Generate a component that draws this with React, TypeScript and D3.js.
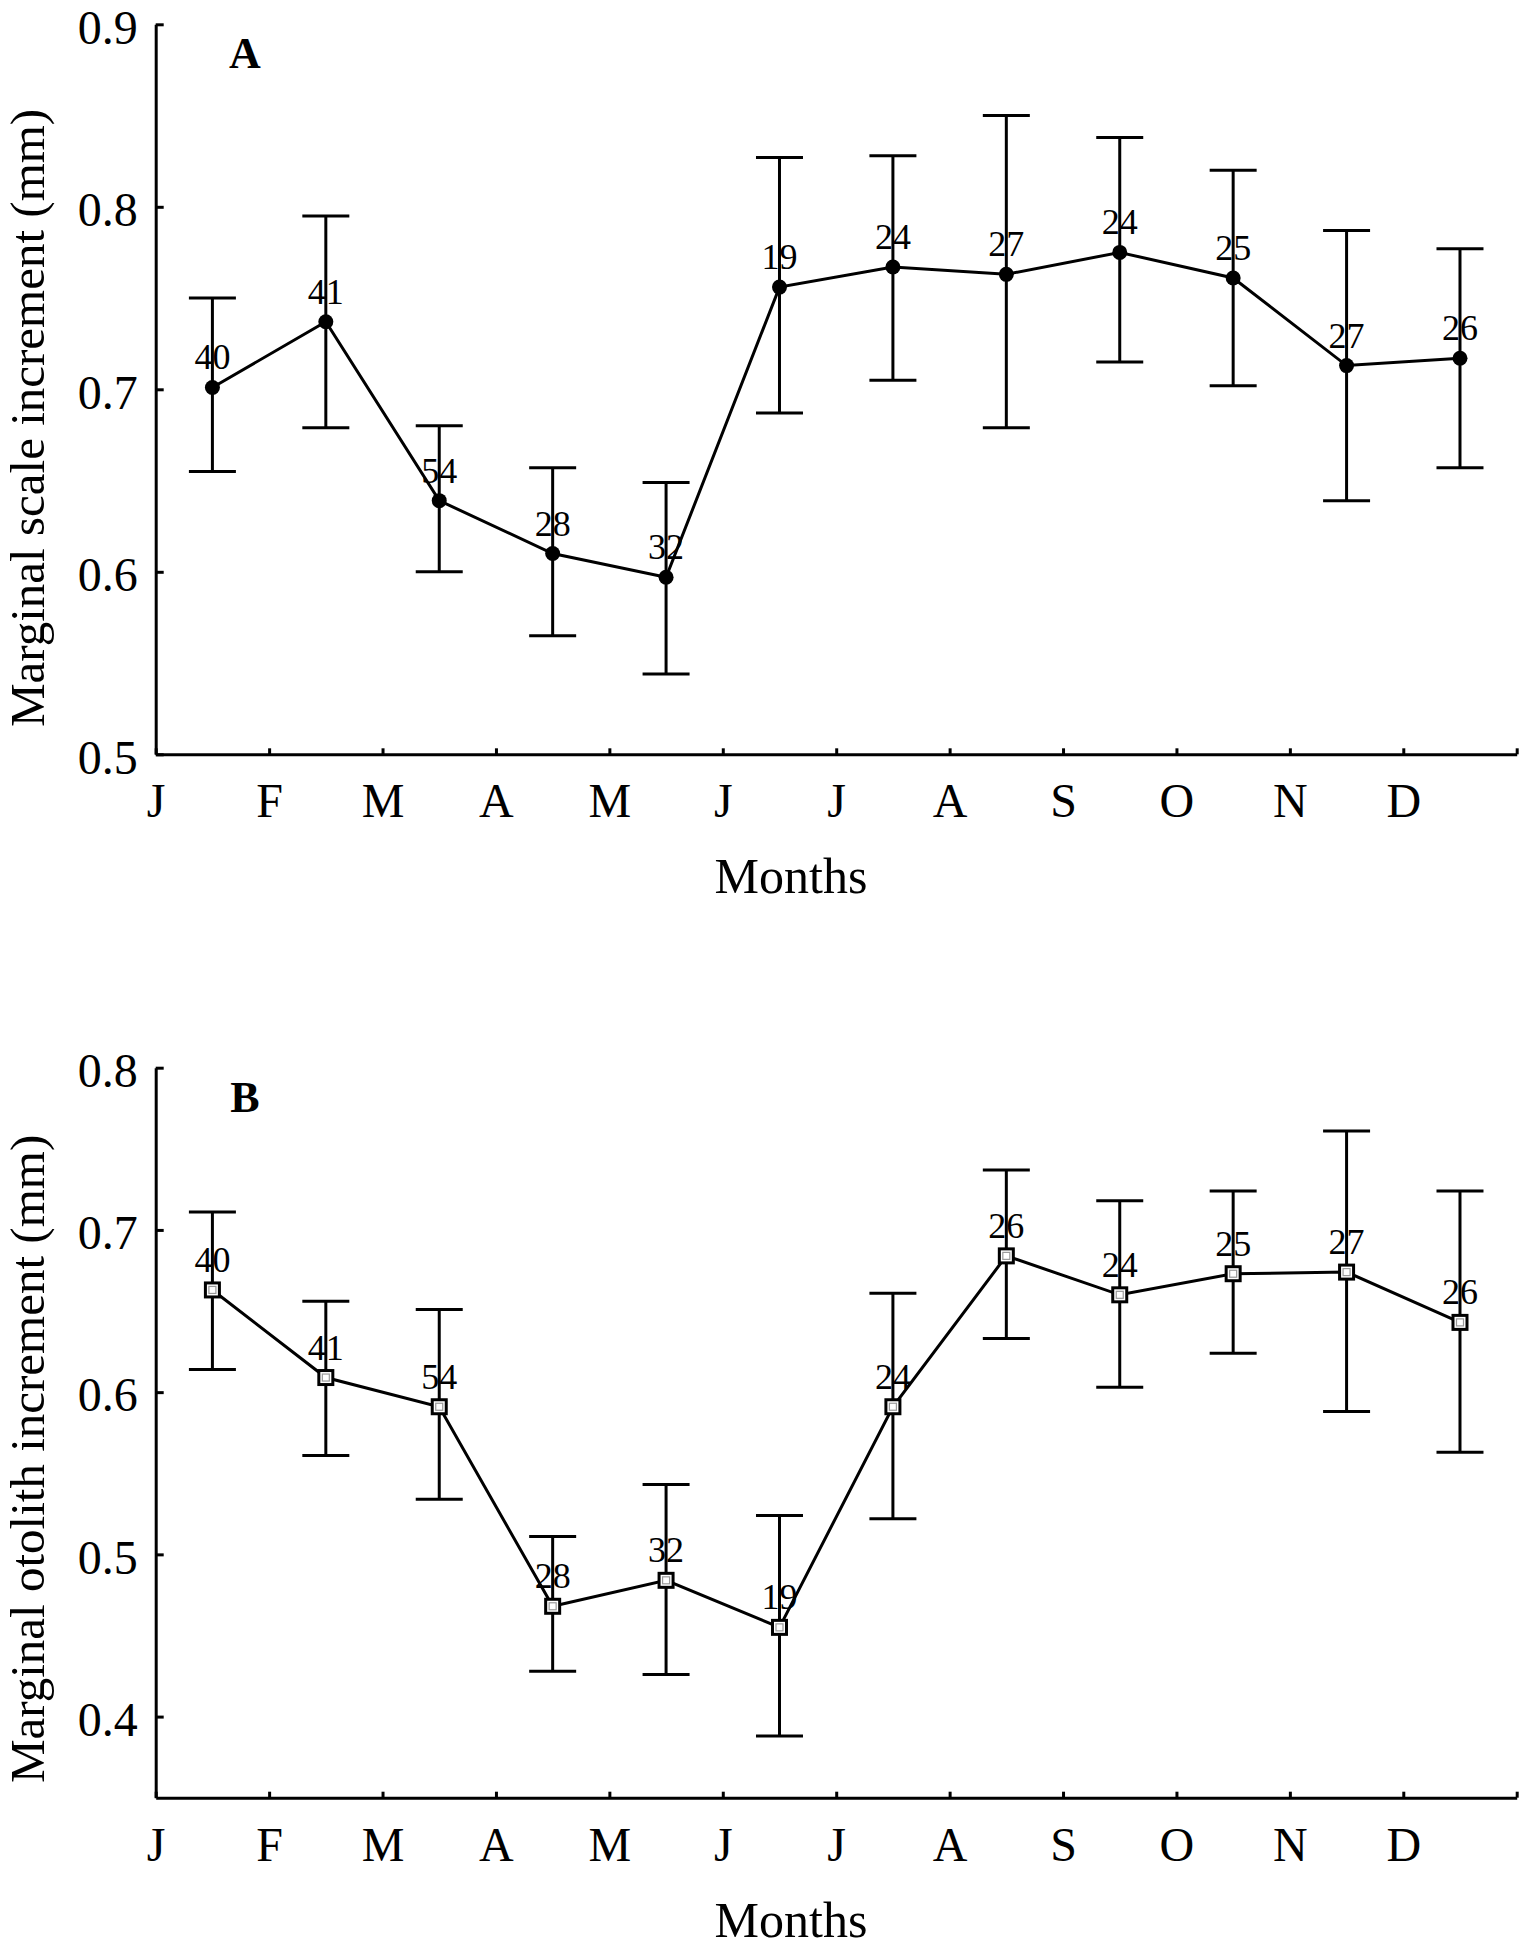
import { useEffect, useRef } from "react";
import * as d3 from "d3";

const WIDTH = 1523;
const HEIGHT = 1947;
const FONT = "'Liberation Serif', 'Times New Roman', serif";

const months = ["J", "F", "M", "A", "M", "J", "J", "A", "S", "O", "N", "D"];

// panel A - marginal scale increment
const scaleMean = [0.701, 0.737, 0.639, 0.61, 0.597, 0.756, 0.767, 0.763, 0.775, 0.761, 0.713, 0.717];
const scaleUpper = [0.75, 0.795, 0.68, 0.657, 0.649, 0.827, 0.828, 0.85, 0.838, 0.82, 0.787, 0.777];
const scaleLower = [0.655, 0.679, 0.6, 0.565, 0.544, 0.687, 0.705, 0.679, 0.715, 0.702, 0.639, 0.657];
const scaleN = [40, 41, 54, 28, 32, 19, 24, 27, 24, 25, 27, 26];
const scaleTicks = [0.5, 0.6, 0.7, 0.8, 0.9];

// panel B - marginal otolith increment
const otolithMean = [0.663, 0.609, 0.591, 0.468, 0.484, 0.455, 0.591, 0.684, 0.66, 0.673, 0.674, 0.643];
const otolithUpper = [0.711, 0.656, 0.651, 0.511, 0.543, 0.524, 0.661, 0.737, 0.718, 0.724, 0.761, 0.724];
const otolithLower = [0.614, 0.561, 0.534, 0.428, 0.426, 0.388, 0.522, 0.633, 0.603, 0.624, 0.588, 0.563];
const otolithN = [40, 41, 54, 28, 32, 19, 24, 26, 24, 25, 27, 26];
const otolithTicks = [0.4, 0.5, 0.6, 0.7, 0.8];

const X_LEFT = 155.7;
const X_RIGHT = 1516.7;
const CAP = 23.5;

type PanelProps = {
  letter: string;
  yTitle: string;
  domain: [number, number];
  top: number;
  bottom: number;
  ticks: number[];
  mean: number[];
  upper: number[];
  lower: number[];
  counts: number[];
  marker: "circle" | "square";
  titleStart: number;
};

const Panel = ({ letter, yTitle, domain, top, bottom, ticks, mean, upper, lower, counts, marker, titleStart }: PanelProps) => {
  const xAxisRef = useRef<SVGGElement>(null);
  const yAxisRef = useRef<SVGGElement>(null);

  const xScale = d3.scaleLinear().domain([0, 12]).range([X_LEFT, X_RIGHT]);
  const yScale = d3.scaleLinear().domain(domain).range([bottom, top]);

  useEffect(() => {
    const xg = d3.select(xAxisRef.current);
    xg.selectAll("*").remove();
    xg.call(
      d3
        .axisBottom(xScale)
        .tickValues(d3.range(13))
        .tickSizeInner(-6)
        .tickSizeOuter(0)
        .tickPadding(29)
        .tickFormat((d) => months[Number(d)] ?? "")
    );
    const yg = d3.select(yAxisRef.current);
    yg.selectAll("*").remove();
    yg.call(
      d3
        .axisLeft(yScale)
        .tickValues(ticks)
        .tickSizeInner(-8)
        .tickSizeOuter(0)
        .tickPadding(18)
        .tickFormat(d3.format(".1f"))
    );
    [xg, yg].forEach((g) => {
      g.attr("font-family", FONT).attr("font-size", 48);
      g.selectAll("path, line").attr("stroke", "#000").attr("stroke-width", 3);
      g.selectAll("text").attr("fill", "#000");
    });
    yg.selectAll("text").attr("dy", "0.39em");
  }, [xScale, yScale, ticks]);

  const pts = mean.map((m, i) => [xScale(i + 0.5), yScale(m)] as [number, number]);
  const line = d3.line()(pts);

  return (
    <g>
      <g ref={xAxisRef} transform={`translate(0,${bottom})`} />
      <g ref={yAxisRef} transform={`translate(${X_LEFT},0)`} />

      {mean.map((_, i) => {
        const x = xScale(i + 0.5);
        return (
          <g key={i} stroke="#000" strokeWidth={3}>
            <line x1={x} x2={x} y1={yScale(upper[i])} y2={yScale(lower[i])} />
            <line x1={x - CAP} x2={x + CAP} y1={yScale(upper[i])} y2={yScale(upper[i])} />
            <line x1={x - CAP} x2={x + CAP} y1={yScale(lower[i])} y2={yScale(lower[i])} />
          </g>
        );
      })}

      <path d={line ?? ""} fill="none" stroke="#000" strokeWidth={3} />

      {pts.map(([x, y], i) =>
        marker === "circle" ? (
          <circle key={i} cx={x} cy={y} r={7.5} fill="#000" />
        ) : (
          <g key={i}>
            <rect x={x - 7} y={y - 7} width={14} height={14} fill="#fff" stroke="#000" strokeWidth={3} />
            <rect x={x - 3.5} y={y - 3.5} width={7} height={7} fill="#fff" stroke="#999" strokeWidth={1.2} />
          </g>
        )
      )}

      {pts.map(([x, y], i) => (
        <text key={i} x={x} y={y - 18} textAnchor="middle" fontFamily={FONT} fontSize={36} fill="#000">
          {counts[i]}
        </text>
      ))}

      <text x={245} y={top + 44} textAnchor="middle" fontFamily={FONT} fontSize={44} fontWeight="bold">
        {letter}
      </text>

      <text
        transform={`translate(44,${titleStart}) rotate(-90)`}
        textAnchor="start"
        fontFamily={FONT}
        fontSize={49}
      >
        {yTitle}
      </text>

      <text x={791} y={bottom + 139} textAnchor="middle" fontFamily={FONT} fontSize={50}>
        Months
      </text>
    </g>
  );
};

export default function App() {
  return (
    <svg
      width={WIDTH}
      height={HEIGHT}
      style={{ position: "absolute", left: 0, top: 0, background: "#fff" }}
    >
      <rect width={WIDTH} height={HEIGHT} fill="#fff" />
      <Panel
        letter="A"
        yTitle="Marginal scale increment (mm)"
        domain={[0.5, 0.9]}
        top={24.3}
        bottom={754.3}
        ticks={scaleTicks}
        mean={scaleMean}
        upper={scaleUpper}
        lower={scaleLower}
        counts={scaleN}
        marker="circle"
        titleStart={727}
      />
      <Panel
        letter="B"
        yTitle="Marginal otolith increment (mm)"
        domain={[0.35, 0.8]}
        top={1067.7}
        bottom={1797.7}
        ticks={otolithTicks}
        mean={otolithMean}
        upper={otolithUpper}
        lower={otolithLower}
        counts={otolithN}
        marker="square"
        titleStart={1783}
      />
    </svg>
  );
}
